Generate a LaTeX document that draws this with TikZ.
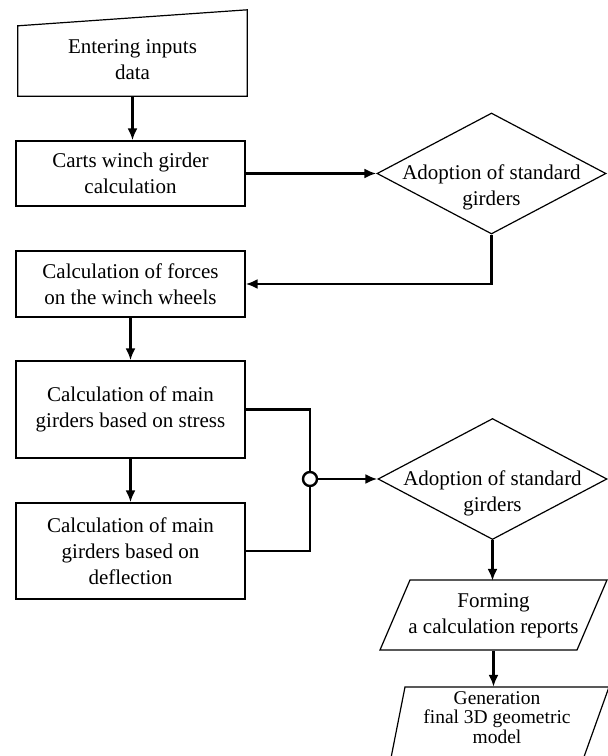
\documentclass[tikz,border=0pt]{standalone}
\usepackage{fontspec}
\setmainfont{Liberation Serif}
\usetikzlibrary{shapes.geometric,arrows.meta}
\tikzset{
  shapeline/.style={draw=black, line width=1.2pt},
  boxnode/.style={shapeline, rectangle, inner sep=0pt, minimum width=229pt, align=center, font=\fontsize{21}{26}\selectfont},
  dianode/.style={shapeline, diamond, inner sep=0pt, minimum width=229pt, minimum height=121pt},
  txt/.style={align=center, inner sep=0pt, font=\fontsize{21}{26}\selectfont},
  conn/.style={draw=black, line width=2.7pt},
  arr/.style={conn, -{Latex[length=12pt,width=10pt]}},
}
\begin{document}
\begin{tikzpicture}[x=1pt,y=-1pt]
\useasboundingbox (0,0) rectangle (608,756);
\fill[white] (0,0) rectangle (608,756);
\clip (0,0) rectangle (608,756);

% manual input
\node[inner sep=0pt, minimum width=229pt, minimum height=86pt] (m1) at (132.5,53) {};
\draw[shapeline] (m1.south west) -- (m1.south east) -- (m1.north east) -- ([yshift=-16pt]m1.north west) -- cycle;
\node[txt] (m1t) at (132.5,60) {Entering inputs\\data};

% boxes
\node[boxnode, minimum height=65pt] (b2) at (130.5,173.5) {Carts winch girder\\calculation};
\node[boxnode, minimum height=66pt] (b3) at (130.5,284) {Calculation of forces\\on the winch wheels};
\node[boxnode, minimum height=97pt] (b4) at (130.5,409.5) {Calculation of main\\girders based on stress};
\node[boxnode, minimum height=96pt] (b5) at (130.5,551) {Calculation of main\\girders based on\\deflection};

% diamonds
\node[dianode] (d1) at (491.5,173.5) {};
\node[txt] (d1t) at (491.5,187) {Adoption of standard\\girders};
\node[dianode] (d2) at (492.5,479) {};
\node[txt] (d2t) at (492.5,493) {Adoption of standard\\girders};

% junction circle
\node[circle, draw=black, line width=2.4pt, fill=white, minimum size=14pt, inner sep=0pt] (j) at (310,479) {};

% parallelograms
\node[txt, minimum width=197pt, minimum height=70pt] (p1) at (493.5,616) {Forming\\a calculation reports};
\draw[shapeline] (380,650) -- (577,650) -- (607,580) -- (410,580) -- cycle;
\node[align=center, inner sep=0pt, minimum height=61pt, font=\fontsize{19.5}{19.5}\selectfont] (p2) at (497,717.5) {Generation\\final 3D geometric\\model};
\draw[shapeline] (389,768) -- (580,768) -- (609,687) -- (405,687) -- cycle;

% connectors
\draw[arr] (m1.south) -- (m1.south |- b2.north);
\draw[arr] (b2.east) -- (d1.west);
\draw[arr] (d1.south) |- (b3.east);
\draw[arr] (b3.south) -- (b4.north);
\draw[arr] (b4.south) -- (b5.north);
\draw[conn] (b4.east) -| (j.north);
\draw[conn] (b5.east) -| (j.south);
\draw[arr] (j.east) -- (d2.west);
\draw[arr] (d2.south) -- (d2.south |- p1.north);
\draw[arr] (p1.south) -- (p1.south |- p2.north);
\end{tikzpicture}
\end{document}
